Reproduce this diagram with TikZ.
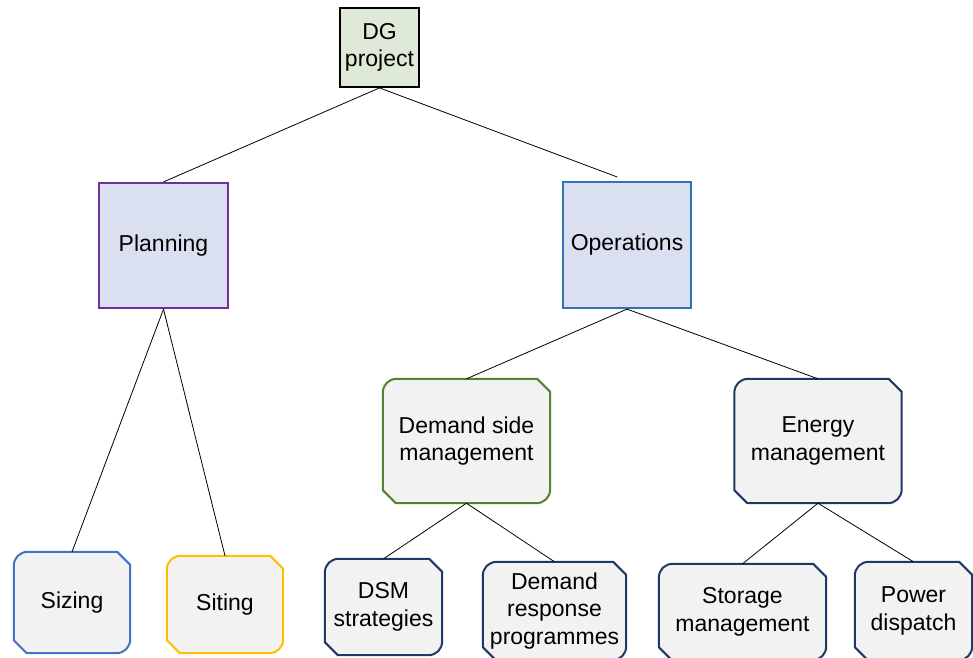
\documentclass[tikz,border=0pt]{standalone}
\usepackage{fontspec}
\setmainfont{Liberation Sans}
\usetikzlibrary{backgrounds}
\definecolor{rootfill}{HTML}{DFE9D7}
\definecolor{midfill}{HTML}{DAE0EF}
\definecolor{tagfill}{HTML}{F2F2F2}
\definecolor{planpurple}{HTML}{7030A0}
\definecolor{opsblue}{HTML}{2E75B6}
\definecolor{dsmgreen}{HTML}{548235}
\definecolor{navy}{HTML}{203864}
\definecolor{sizeblue}{HTML}{4472C4}
\definecolor{sitegold}{HTML}{FFC000}
\tikzset{
  box/.style={inner sep=0pt, align=center, font=\fontsize{23}{27.5}\selectfont},
  rootbox/.style={box, draw=black, fill=rootfill, line width=1.8pt},
  midbox/.style={box, fill=midfill, line width=2.2pt},
  edge/.style={line width=0.8pt}
}
% outline with rounded top left / bottom right and cut top right / bottom left
\newcommand\tagshape[2]{%
  \draw[line width=2pt, draw=#2, fill=tagfill]
    ([yshift=-14pt]#1.north west) .. controls ([yshift=-6pt]#1.north west) and ([xshift=6pt]#1.north west) .. ([xshift=14pt]#1.north west)
    -- ([xshift=-13pt]#1.north east) -- ([yshift=-13pt]#1.north east)
    -- ([yshift=14pt]#1.south east) .. controls ([yshift=6pt]#1.south east) and ([xshift=-6pt]#1.south east) .. ([xshift=-14pt]#1.south east)
    -- ([xshift=13pt]#1.south west) -- ([yshift=13pt]#1.south west) -- cycle;}
\begin{document}
\begin{tikzpicture}[x=1pt, y=-1pt]
  \useasboundingbox (0,0) rectangle (973,657);
  \draw
    (379.5,47.5) node[rootbox, minimum width=79pt, minimum height=79pt] (dg){DG\\project}
    (163.5,245.5) node[midbox, draw=planpurple, minimum width=129pt, minimum height=125pt] (plan){Planning}
    (627,245) node[midbox, draw=opsblue, minimum width=128pt, minimum height=126pt] (ops){Operations}
    (466.5,441) node[box, minimum width=167pt, minimum height=124pt] (dsm){Demand side\\management}
    (818,441) node[box, minimum width=167pt, minimum height=124pt] (energy){Energy\\management}
    (72,602.5) node[box, minimum width=116pt, minimum height=101pt] (sizing){Sizing}
    (225,604.5) node[box, minimum width=116pt, minimum height=97pt] (siting){Siting}
    (383.5,607) node[box, minimum width=117pt, minimum height=96pt] (dsms){DSM\\strategies}
    (554.5,611) node[box, minimum width=143pt, minimum height=98pt] (drp){Demand\\response\\programmes}
    (742.5,612) node[box, minimum width=167pt, minimum height=96pt] (storage){Storage\\management}
    (913.5,611) node[box, minimum width=117pt, minimum height=98pt] (dispatch){Power\\dispatch};
  \begin{scope}[on background layer]
    \foreach \n/\c in {dsm/dsmgreen, energy/navy, sizing/sizeblue, siting/sitegold,
                       dsms/navy, drp/navy, storage/navy, dispatch/navy}
      \tagshape{\n}{\c};
  \end{scope}
  \begin{scope}[edge]
    \draw (dg.south) to (plan.north);
    \draw (dg.south) to ([xshift=-10pt,yshift=4pt]ops.north);
    \draw (plan.south) to (sizing.north);
    \draw (plan.south) to (siting.north);
    \draw (ops.south) to (dsm.north);
    \draw (ops.south) to (energy.north);
    \draw (dsm.south) to (dsms.north);
    \draw (dsm.south) to (drp.north);
    \draw (energy.south) to (storage.north);
    \draw (energy.south) to (dispatch.north);
  \end{scope}
\end{tikzpicture}
\end{document}
